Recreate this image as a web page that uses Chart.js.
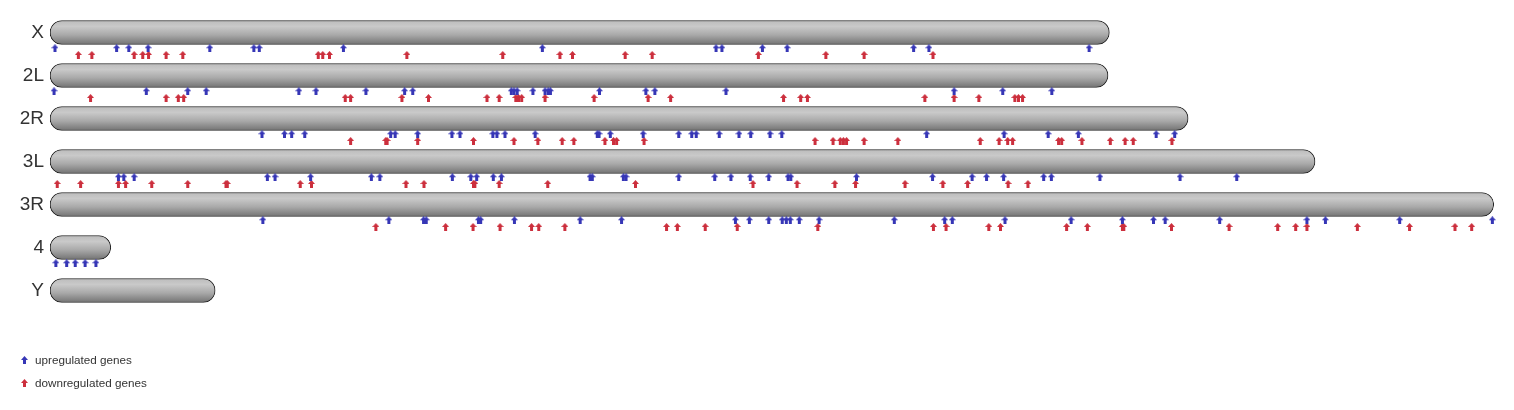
<!DOCTYPE html>
<html>
<head>
<meta charset="utf-8">
<script src="https://cdn.jsdelivr.net/npm/chart.js@4.4.1/dist/chart.umd.min.js"></script>
<style>
    html, body { margin: 0; padding: 0; background: #ffffff; }
    #wrap { position: relative; width: 1514px; height: 410px; }
</style>
</head>
<body>
<div id="wrap"><canvas id="genome-chart"></canvas></div>
<script>

    //---------------------------------------------------------------------------------------------
    // - DATA (positions in Mb) -------------------------------------------------------------------
    //---------------------------------------------------------------------------------------------

    var chromosomes = ["X", "2L", "2R", "3L", "3R", "4", "Y"];
    var chromosome_lengths = [23.54, 23.51, 25.29, 28.11, 32.08, 1.35, 3.67];

    var up_X = [0.11, 1.48, 1.75, 2.18, 3.55, 4.53, 4.65, 6.52, 10.94, 14.80, 14.93, 15.83, 16.38, 19.19, 19.53, 23.09];
    var down_X = [0.63, 0.93, 1.87, 2.06, 2.19, 2.58, 2.95, 5.96, 6.06, 6.21, 7.93, 10.06, 11.33, 11.61, 12.78, 13.38, 15.74, 17.24, 18.09, 19.62];

    var up_2L = [0.09, 2.14, 3.06, 3.47, 5.53, 5.91, 7.02, 7.88, 8.06, 10.25, 10.31, 10.38, 10.73, 11.00, 11.07, 11.12, 12.21, 13.24, 13.44, 15.02, 20.09, 21.17, 22.26];
    var down_2L = [0.90, 2.58, 2.85, 2.97, 6.56, 6.68, 7.82, 8.41, 9.71, 9.98, 10.35, 10.41, 10.48, 11.00, 12.09, 13.29, 13.79, 16.30, 16.68, 16.83, 19.44, 20.09, 20.64, 21.44, 21.52, 21.61];

    var up_2R = [4.71, 5.21, 5.37, 5.66, 7.57, 7.67, 8.17, 8.93, 9.11, 9.84, 9.93, 10.11, 10.78, 12.16, 12.20, 12.45, 13.18, 13.97, 14.26, 14.36, 14.87, 15.31, 15.57, 16.00, 16.26, 19.48, 21.20, 22.18, 22.85, 24.58, 24.99];
    var down_2R = [6.68, 7.46, 7.49, 8.17, 9.41, 10.31, 10.84, 11.38, 11.64, 12.33, 12.52, 12.59, 13.20, 17.00, 17.40, 17.56, 17.63, 17.70, 18.09, 18.84, 20.67, 21.09, 21.28, 21.39, 22.41, 22.48, 22.93, 23.56, 23.89, 24.07, 24.93];

    var up_3L = [1.52, 1.64, 1.87, 4.83, 5.00, 5.79, 7.14, 7.33, 8.94, 9.35, 9.48, 9.85, 10.03, 12.00, 12.05, 12.74, 12.80, 13.97, 14.77, 15.13, 15.56, 15.97, 16.40, 16.46, 17.92, 19.61, 20.49, 20.81, 21.19, 22.08, 22.25, 23.33, 25.11, 26.37];
    var down_3L = [0.16, 0.68, 1.52, 1.68, 2.26, 3.06, 3.91, 3.94, 5.56, 5.81, 7.91, 8.31, 9.41, 9.44, 9.98, 11.06, 13.01, 15.62, 16.60, 17.44, 17.90, 19.00, 19.84, 20.39, 21.29, 21.73];

    var up_3R = [4.73, 7.53, 8.30, 8.36, 9.52, 9.57, 10.32, 11.78, 12.70, 15.23, 15.54, 15.97, 16.27, 16.36, 16.45, 16.65, 17.09, 18.76, 19.88, 20.05, 21.22, 22.69, 23.83, 24.52, 24.78, 25.99, 27.93, 28.34, 29.99, 32.05];
    var down_3R = [7.24, 8.79, 9.40, 10.00, 10.70, 10.86, 11.44, 13.70, 13.94, 14.56, 15.27, 17.06, 19.63, 19.91, 20.86, 21.12, 22.59, 23.05, 23.83, 23.86, 24.92, 26.20, 27.28, 27.68, 27.93, 29.05, 30.21, 31.22, 31.59];

    var up_4 = [0.13, 0.37, 0.56, 0.78, 1.02];
    var down_4 = [];

    var up_Y = [];
    var down_Y = [];

    var legend_labels = ["upregulated genes", "downregulated genes"];

    //---------------------------------------------------------------------------------------------
    // - STYLE ------------------------------------------------------------------------------------
    //---------------------------------------------------------------------------------------------

    var up_color = "#3636b6";
    var down_color = "#cc2f3d";
    var up_offset = 0.367;     // rows below the chromosome centre
    var down_offset = 0.523;

    function arrowImage(color) {
        var c = document.createElement("canvas");
        c.width = 7;
        c.height = 8;
        var g = c.getContext("2d");
        g.fillStyle = color;
        g.beginPath();
        g.moveTo(3.5, 0);
        g.lineTo(7, 4);
        g.lineTo(5, 4);
        g.lineTo(5, 8);
        g.lineTo(2, 8);
        g.lineTo(2, 4);
        g.lineTo(0, 4);
        g.closePath();
        g.fill();
        return c;
    }

    var up_arrow = arrowImage(up_color);
    var down_arrow = arrowImage(down_color);

    //---------------------------------------------------------------------------------------------
    // - BUILD DATASETS ---------------------------------------------------------------------------
    //---------------------------------------------------------------------------------------------

    var up_lists = [up_X, up_2L, up_2R, up_3L, up_3R, up_4, up_Y];
    var down_lists = [down_X, down_2L, down_2R, down_3L, down_3R, down_4, down_Y];

    var up_points = [];
    var down_points = [];
    up_lists.forEach(function (list, row) {
        list.forEach(function (pos) { up_points.push({x: pos, y: row + up_offset}); });
    });
    down_lists.forEach(function (list, row) {
        list.forEach(function (pos) { down_points.push({x: pos, y: row + down_offset}); });
    });

    var chromosome_bars = chromosomes.map(function (name, row) {
        return {x: [0, chromosome_lengths[row]], y: row};
    });

    function chromosomeGradient(context) {
        var chart = context.chart;
        var yScale = chart.scales.y;
        if (!yScale || !context.raw) {
            return "#a8a8a8";
        }
        var yc = yScale.getPixelForValue(context.raw.y);
        if (!isFinite(yc)) {
            return "#a8a8a8";
        }
        var grad = chart.ctx.createLinearGradient(0, yc - 12, 0, yc + 12);
        grad.addColorStop(0, "#bcbcbc");
        grad.addColorStop(0.25, "#c9c9c9");
        grad.addColorStop(0.6, "#a9a9a9");
        grad.addColorStop(1, "#737373");
        return grad;
    }

    //---------------------------------------------------------------------------------------------
    // - LEGEND PLUGIN ----------------------------------------------------------------------------
    //---------------------------------------------------------------------------------------------

    var genome_legend = {
        id: "genomeLegend",
        afterDraw: function (chart) {
            var ctx = chart.ctx;
            var arrows = [up_arrow, down_arrow];
            var rows = [360, 383];
            ctx.save();
            ctx.font = "11.7px 'Liberation Sans', Arial, sans-serif";
            ctx.fillStyle = "#333333";
            ctx.textBaseline = "middle";
            ctx.textAlign = "left";
            legend_labels.forEach(function (label, i) {
                ctx.drawImage(arrows[i], 21, rows[i] - 4);
                ctx.fillText(label, 35, rows[i] + 1);
            });
            ctx.restore();
        }
    };

    //---------------------------------------------------------------------------------------------
    // - CHART ------------------------------------------------------------------------------------
    //---------------------------------------------------------------------------------------------

    var genome_chart_config = {
        type: "scatter",
        data: {
            datasets: [{
                type: "scatter",
                label: legend_labels[0],
                data: up_points,
                pointStyle: up_arrow,
                order: 1
            }, {
                type: "scatter",
                label: legend_labels[1],
                data: down_points,
                pointStyle: down_arrow,
                order: 1
            }, {
                type: "bar",
                label: "chromosomes",
                indexAxis: "y",
                data: chromosome_bars,
                barThickness: 24,
                borderRadius: 12,
                borderSkipped: false,
                borderWidth: 1,
                borderColor: "#222222",
                backgroundColor: chromosomeGradient,
                order: 2
            }]
        },
        options: {
            responsive: true,
            maintainAspectRatio: false,
            animation: false,
            events: [],
            layout: {
                autoPadding: false,
                padding: {top: 11, bottom: 12, left: 0, right: 14}
            },
            plugins: {
                legend: {display: false},
                tooltip: {enabled: false},
                title: {display: false}
            },
            scales: {
                x: {
                    type: "linear",
                    display: false,
                    offset: false,
                    min: 0,
                    max: 32.22
                },
                y: {
                    type: "linear",
                    reverse: true,
                    offset: false,
                    min: -0.5,
                    max: 8.5,
                    grid: {display: false, drawTicks: false, offset: false},
                    border: {display: false},
                    afterBuildTicks: function (scale) {
                        scale.ticks = chromosomes.map(function (c, i) { return {value: i}; });
                    },
                    afterFit: function (scale) {
                        scale.width = 50;
                        scale.paddingTop = 0;
                        scale.paddingBottom = 0;
                    },
                    ticks: {
                        padding: 6,
                        color: "#333333",
                        font: {family: "'Liberation Sans', Arial, sans-serif", size: 19},
                        callback: function (value) {
                            return chromosomes[value];
                        }
                    }
                }
            }
        },
        plugins: [genome_legend]
    };

    var genome_chart_ctx = document.getElementById("genome-chart").getContext("2d");

    new Chart(genome_chart_ctx, genome_chart_config);

</script>
</body>
</html>
